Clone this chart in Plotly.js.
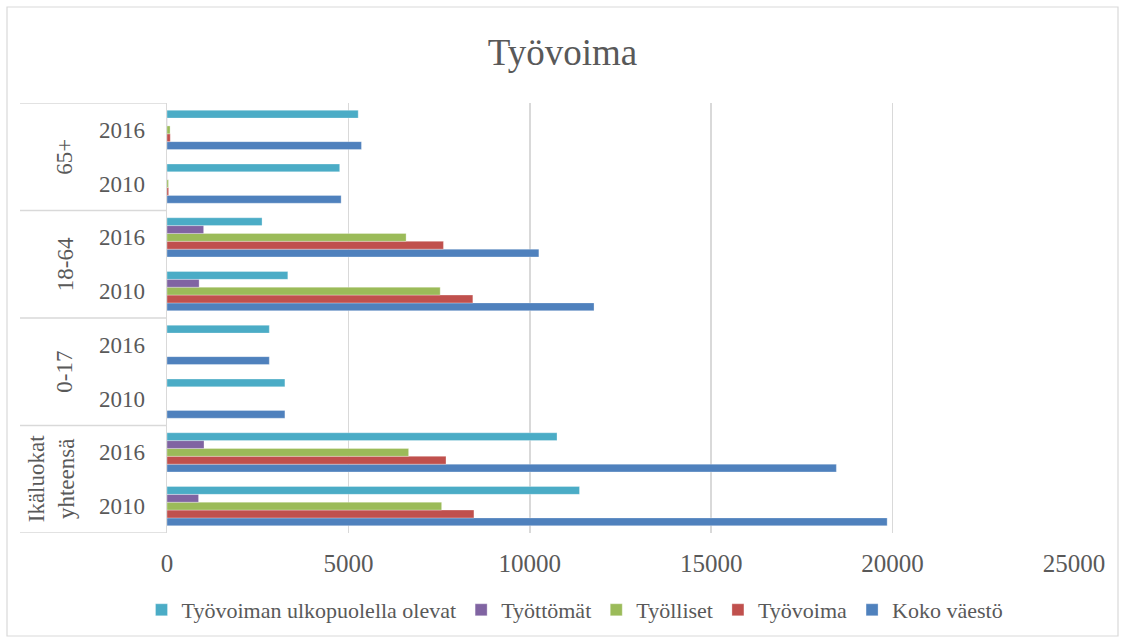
<!DOCTYPE html>
<html>
<head>
<meta charset="utf-8">
<script src="https://cdn.plot.ly/plotly-3.0.1.min.js"></script>
<style>
html,body{margin:0;padding:0;background:#fff;}
#chart{width:1125px;height:643px;}
</style>
</head>
<body>
<div id="chart"></div>
<script>
// Categories (bottom to top)
const groups = ["Ikäluokat yhteensä", "0-17", "18-64", "65+"];
const groupLabels = ["Ikäluokat<br>yhteensä", "0-17", "18-64", "65+"];
const years = ["2010", "2016"];
const categoryKeys = ["Ikäluokat yhteensä 2010", "Ikäluokat yhteensä 2016", "0-17 2010", "0-17 2016", "18-64 2010", "18-64 2016", "65+ 2010", "65+ 2016"];
const tickLabels = ["2010", "2016", "2010", "2016", "2010", "2016", "2010", "2016"];

// Series values in the same order as categoryKeys
const kokoVaesto   = [19850, 18450, 3250, 2820, 11770, 10250, 4800, 5360];
const tyovoima     = [8460, 7690, 0, 0, 8430, 7620, 45, 90];
const tyolliset    = [7570, 6660, 0, 0, 7530, 6590, 40, 85];
const tyottomat    = [870, 1020, 0, 0, 885, 1010, 5, 5];
const ulkopuolella = [11370, 10750, 3250, 2820, 3330, 2620, 4760, 5270];

const seriesNames = ["Koko väestö", "Työvoima", "Työlliset", "Työttömät", "Työvoiman ulkopuolella olevat"];
const seriesColors = ["#4F81BD", "#C0504D", "#9BBB59", "#8064A2", "#4BACC6"];
const seriesData = [kokoVaesto, tyovoima, tyolliset, tyottomat, ulkopuolella];

const FONT = "Liberation Serif";
const TXT = "#595959";

const traces = seriesData.map((vals, i) => ({
  type: "bar",
  orientation: "h",
  name: seriesNames[i],
  x: vals,
  y: categoryKeys,
  marker: {color: seriesColors[i], line: {color: "rgba(255,255,255,0.6)", width: 0.5}},
  hoverinfo: "x+name"
}));

// layout geometry
const L = 167, R = 51, T = 103, B = 110, W = 1125, H = 643;
const pw = W - L - R, ph = H - T - B;
const px = v => (v - L) / pw;
const py = v => (H - B - v) / ph;
const lineCol = "#d9d9d9";

const shapes = [];
[-0.5, 1.5, 3.5, 5.5, 7.5].forEach(y => {
  shapes.push({type: "line", xref: "paper", yref: "y", x0: px(20), x1: 0, y0: y, y1: y,
    line: {color: lineCol, width: 1.5}});
});
shapes.push({type: "rect", xref: "paper", yref: "paper", x0: px(7), x1: px(1118), y0: py(636), y1: py(7),
  line: {color: lineCol, width: 1.2}, fillcolor: "rgba(0,0,0,0)", layer: "below"});

const annotations = groupLabels.map((g, i) => ({
  xref: "paper", yref: "y", x: px(i === 0 ? 51 : 65), y: 2 * i + 0.5,
  text: g, showarrow: false, textangle: -90,
  font: {family: FONT, size: 23, color: TXT},
  xanchor: "center", yanchor: "middle"
}));

const layout = {
  width: W, height: H,
  margin: {l: L, r: R, t: T, b: B, pad: 0, autoexpand: false},
  paper_bgcolor: "#fff", plot_bgcolor: "#fff",
  font: {family: FONT, size: 23, color: TXT},
  title: {text: "Työvoima", x: 0.5, xanchor: "center", y: 1 - 52 / H, yanchor: "middle", yref: "container",
    font: {family: FONT, size: 37, color: TXT}},
  barmode: "group",
  bargap: 0.27,
  bargroupgap: 0,
  xaxis: {range: [0, 25000], tickvals: [0, 5000, 10000, 15000, 20000, 25000], ticktext: ["0", "5000", "10000", "15000", "20000", "25000"],
    showgrid: true, gridcolor: lineCol, gridwidth: 1.5, zeroline: false, showline: false, ticks: "",
    ticklabelstandoff: 13, tickfont: {family: FONT, size: 25, color: TXT}, fixedrange: true, automargin: false},
  yaxis: {type: "category", categoryorder: "array", categoryarray: categoryKeys,
    tickvals: categoryKeys, ticktext: tickLabels, range: [-0.5, 7.5],
    showline: true, linecolor: lineCol, linewidth: 1.5, showgrid: false, ticks: "",
    ticklabelstandoff: 16, tickfont: {family: FONT, size: 23, color: TXT}, fixedrange: true, automargin: false},
  legend: {orientation: "h", traceorder: "reversed", xref: "container", yref: "container",
    x: 575 / W, xanchor: "center", y: 1 - 610 / H, yanchor: "middle",
    font: {family: FONT, size: 22, color: TXT}, itemwidth: 30},
  shapes: shapes,
  annotations: annotations,
  showlegend: true
};

Plotly.newPlot("chart", traces, layout, {displayModeBar: false, staticPlot: true});
</script>
</body>
</html>
